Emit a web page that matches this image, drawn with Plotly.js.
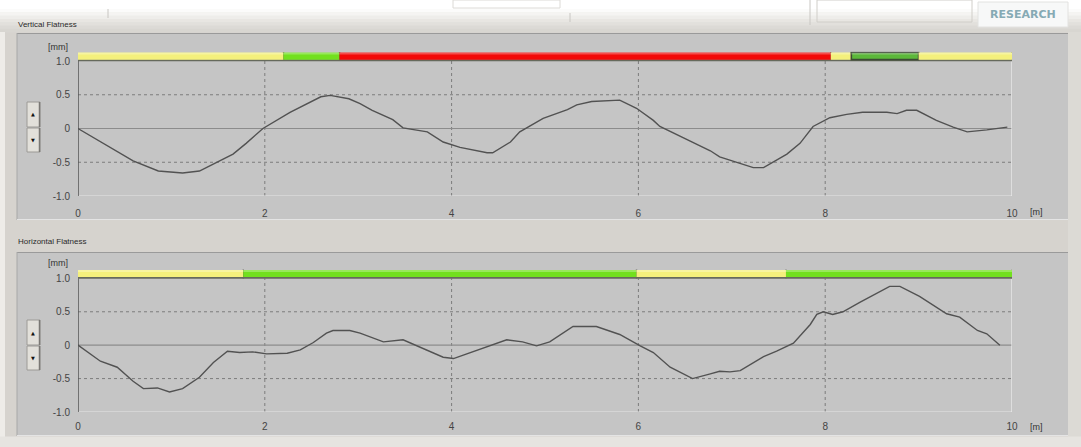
<!DOCTYPE html>
<html><head><meta charset="utf-8">
<script src="https://cdn.plot.ly/plotly-3.0.1.min.js"></script>
<style>html,body{margin:0;padding:0;background:#d6d3ce;overflow:hidden}#chart{width:1081px;height:447px}</style>
</head><body><div id="chart"></div>
<script>
// ---------------- data ----------------
const vertX = [0,0.24,0.59,0.86,1.12,1.3,1.66,1.8,1.98,2.27,2.6,2.7,2.9,3.02,3.15,3.37,3.48,3.74,3.91,4.09,4.38,4.44,4.63,4.73,4.98,5.24,5.34,5.5,5.7,5.8,5.98,6.16,6.23,6.48,6.77,6.87,7.23,7.34,7.59,7.73,7.87,8.05,8.23,8.4,8.66,8.77,8.87,8.98,9.19,9.37,9.52,9.73,9.95];
const vertY = [0,-0.2,-0.48,-0.63,-0.66,-0.63,-0.38,-0.22,0,0.24,0.47,0.49,0.44,0.37,0.27,0.13,0.01,-0.05,-0.2,-0.28,-0.36,-0.36,-0.2,-0.05,0.15,0.28,0.35,0.4,0.42,0.42,0.3,0.12,0.03,-0.14,-0.33,-0.42,-0.58,-0.58,-0.38,-0.22,0.03,0.16,0.21,0.24,0.24,0.22,0.27,0.27,0.12,0.02,-0.05,-0.02,0.02];
const horzX = [0,0.24,0.42,0.59,0.7,0.85,0.98,1.12,1.3,1.45,1.6,1.73,1.87,2.02,2.24,2.38,2.52,2.66,2.73,2.91,3.02,3.27,3.48,3.66,3.91,4.02,4.2,4.44,4.59,4.76,4.91,5.05,5.24,5.3,5.55,5.73,5.8,6.02,6.16,6.34,6.58,6.77,6.87,6.98,7.09,7.34,7.48,7.66,7.7,7.84,7.91,7.98,8.08,8.19,8.37,8.59,8.69,8.8,9.01,9.3,9.44,9.63,9.73,9.87];
const horzY = [0,-0.24,-0.33,-0.54,-0.65,-0.64,-0.7,-0.65,-0.48,-0.26,-0.09,-0.11,-0.1,-0.13,-0.12,-0.07,0.04,0.18,0.22,0.22,0.18,0.05,0.08,-0.03,-0.18,-0.2,-0.11,0,0.08,0.05,-0.01,0.05,0.22,0.28,0.28,0.19,0.16,-0.01,-0.11,-0.33,-0.5,-0.43,-0.39,-0.4,-0.38,-0.17,-0.09,0.03,0.09,0.31,0.46,0.5,0.46,0.5,0.64,0.8,0.88,0.88,0.73,0.47,0.42,0.22,0.17,0];
const xTicks = [0,2,4,6,8,10];
const xTickLabels = ['0','2','4','6','8','10'];
const yTicks = [-1,-0.5,0,0.5,1];
const yTickLabels = ['-1.0','-0.5','0','0.5','1.0'];
const vertZoneStart = [0,2.2,2.8,8.06,8.28,9.0];
const vertZoneEnd   = [2.2,2.8,8.06,8.28,9.0,10];
const vertZoneState = ['warn','ok','bad','warn','sel','warn'];
const horzZoneStart = [0,1.77,5.98,7.58];
const horzZoneEnd   = [1.77,5.98,7.58,10];
const horzZoneState = ['warn','ok','warn','ok'];
const panelTitles = ['Vertical Flatness','Horizontal Flatness'];
const yUnit = '[mm]', xUnit = '[m]', brand = 'RESEARCH';

// ---------------- styling ----------------
const W = 1081, H = 447;
const PX = v => v / W, PY = v => 1 - v / H;
const stateFill = {warn:'#f4f07c', ok:'#72e01e', bad:'#f20808', sel:'#5cb83a'};
const FONT = 'Liberation Sans, Arial, sans-serif';
const shapes = [], annotations = [];
function prect(x0,y0,x1,y1,fill,line,lw){
  shapes.push({type:'rect',xref:'paper',yref:'paper',x0:PX(x0),x1:PX(x1),y0:PY(y1),y1:PY(y0),
    fillcolor:fill,line:{color:line||fill,width:lw===undefined?0:lw},layer:'below'});
}
function pline(x0,y0,x1,y1,color,w){
  shapes.push({type:'line',xref:'paper',yref:'paper',x0:PX(x0),x1:PX(x1),y0:PY(y0),y1:PY(y1),
    line:{color:color,width:w||1},layer:'below'});
}
// window background
prect(0,0,W,9,'#ffffff');
const grad = ['#fbfbfa','#f5f4f2','#eeedea','#e8e6e2','#e2e0dc','#dcdad6','#d8d6d1'];
grad.forEach((c,i)=>prect(0,9+i*3.3,W,9+(i+1)*3.3+0.5,c));
prect(0,32,5,H,'#eeece8');
prect(1068,32,W,H,'#dcdad5');
// top tabs (decor)
pline(108,9,108,18,'#c8c6c2',1);
prect(453,0,560,8,'#ffffff','#dcdad6',1);
pline(570,13,570,22,'#c8c6c2',1);
pline(810,0,810,25,'#c8c6c2',1);
prect(817,0,972,22,'rgba(0,0,0,0)','#d0cec9',1);
prect(978,2,1068,27,'#f7f8f8','#e2e2e0',1);
annotations.push({xref:'paper',yref:'paper',x:PX(1023),y:PY(15),text:'<b>'+brand+'</b>',showarrow:false,
  font:{family:'DejaVu Sans, sans-serif',size:11,color:'#86aab4'},xanchor:'center',yanchor:'middle'});
// panel boxes
const boxes = [[33,220],[252,436]];
boxes.forEach(b=>{
  prect(17,b[0],1068,b[1],'#c5c5c5');
  pline(17,b[0]+0.5,1068,b[0]+0.5,'#9a9a9a',1);
  pline(17,b[0],17,b[1],'#a8a8a8',1);
  pline(17,b[1]-0.5,1068,b[1]-0.5,'#e4e4e4',1);
});
prect(0,436.5,W,H,'#e6e4e0');
// panel titles
[[panelTitles[0],24],[panelTitles[1],242]].forEach(t=>{
  annotations.push({xref:'paper',yref:'paper',x:PX(16),y:PY(t[1]),text:t[0],showarrow:false,
    font:{family:FONT,size:8,color:'#2a2a2a'},xanchor:'left',yanchor:'middle'});
});
// up/down buttons
[[102,127,152],[320,345,370]].forEach(b=>{
  [[b[0],b[1]],[b[1]+1,b[2]]].forEach((r,i)=>{
    prect(27,r[0],40,r[1],'#e2e0da','#9c9a96',1);
    pline(39.5,r[0],39.5,r[1],'#7a7874',1.5);
    annotations.push({xref:'paper',yref:'paper',x:PX(33),y:PY((r[0]+r[1])/2),text:i===0?'▲':'▼',showarrow:false,
      font:{family:'DejaVu Sans, sans-serif',size:5,color:'#111'},xanchor:'center',yanchor:'middle'});
  });
});

// per-subplot data-coordinate decorations
function subplotDeco(xr,yr,zs,ze,st){
  const L = (x0,y0,x1,y1,color,w,dash)=>shapes.push({type:'line',xref:xr,yref:yr,x0,y0,x1,y1,
    line:{color,width:w,dash:dash||'solid'},layer:'below'});
  xTicks.slice(1,-1).forEach(t=>L(t,-1,t,1,'#7c7c7c',1,'dot'));
  [0.5,-0.5].forEach(t=>L(0,t,10,t,'#7c7c7c',1,'dot'));
  L(0,0,10,0,'#8c8c8c',1.2);
  L(0,-1,10,-1,'#e6e6e6',1.2);
  L(10,-1,10,1.0,'#eeeeee',1.2);
  L(0,-1,0,1.0,'#555555',1.5);
  // status bar
  shapes.push({type:'rect',xref:xr,yref:yr,x0:0,x1:10,y0:0.995,y1:1.025,fillcolor:'#666a5c',line:{width:0},layer:'above'});
  zs.forEach((s,i)=>{
    const sel = st[i]==='sel';
    shapes.push({type:'rect',xref:xr,yref:yr,x0:s,x1:ze[i],y0:1.02,y1:1.125,fillcolor:stateFill[st[i]],
      line:{color:sel?'#3c4a34':'rgba(0,0,0,0)',width:sel?1.6:0},layer:'above'});
    shapes.push({type:'rect',xref:xr,yref:yr,x0:s,x1:ze[i],y0:1.095,y1:1.125,fillcolor:'rgba(255,255,255,0.28)',line:{width:0},layer:'above'});
    if(i>0) L(s,1.0,s,1.13,'#4a4a3a',1.5);
  });
  L(10,1.0,10,1.13,'#6a7a3a',1.5);
}
subplotDeco('x','y',vertZoneStart,vertZoneEnd,vertZoneState);
subplotDeco('x2','y2',horzZoneStart,horzZoneEnd,horzZoneState);
// unit labels
[[47,212],[263,427]].forEach(u=>{
  annotations.push({xref:'paper',yref:'paper',x:PX(70),y:PY(u[0]),text:yUnit,showarrow:false,
    font:{family:FONT,size:9,color:'#333'},xanchor:'right',yanchor:'middle'});
  annotations.push({xref:'paper',yref:'paper',x:PX(1028),y:PY(u[1]),text:xUnit,showarrow:false,
    font:{family:FONT,size:9,color:'#333'},xanchor:'left',yanchor:'middle'});
});

const lineStyle = {color:'#525252',width:1.4};
const traces = [
  {x:vertX,y:vertY,xaxis:'x',yaxis:'y',type:'scatter',mode:'lines',line:lineStyle,hoverinfo:'skip'},
  {x:horzX,y:horzY,xaxis:'x2',yaxis:'y2',type:'scatter',mode:'lines',line:lineStyle,hoverinfo:'skip'}
];
const xa = (anchor,tl)=>({domain:[PX(78),PX(1012)],range:[0,10],anchor,tickmode:'array',tickvals:xTicks,ticktext:xTickLabels,
  showgrid:false,zeroline:false,showline:false,ticks:'outside',ticklen:tl,tickcolor:'rgba(0,0,0,0)',
  tickfont:{family:FONT,size:10,color:'#444'},fixedrange:true});
const ya = (anchor,dom)=>({domain:dom,range:[-1,1.14],anchor,tickmode:'array',tickvals:yTicks,ticktext:yTickLabels,
  showgrid:false,zeroline:false,showline:false,ticks:'outside',ticklen:5,tickcolor:'rgba(0,0,0,0)',
  tickfont:{family:FONT,size:10,color:'#444'},fixedrange:true});
const layout = {
  width:W,height:H,margin:{l:0,r:0,t:0,b:0},paper_bgcolor:'#d6d3ce',plot_bgcolor:'rgba(0,0,0,0)',
  showlegend:false,
  xaxis:xa('y',8), yaxis:ya('x',[1-196/H,1-51.55/H]),
  xaxis2:xa('y2',5), yaxis2:ya('x2',[1-412/H,1-269/H]),
  shapes, annotations
};
Plotly.newPlot('chart',traces,layout,{displayModeBar:false,staticPlot:true});
</script></body></html>
